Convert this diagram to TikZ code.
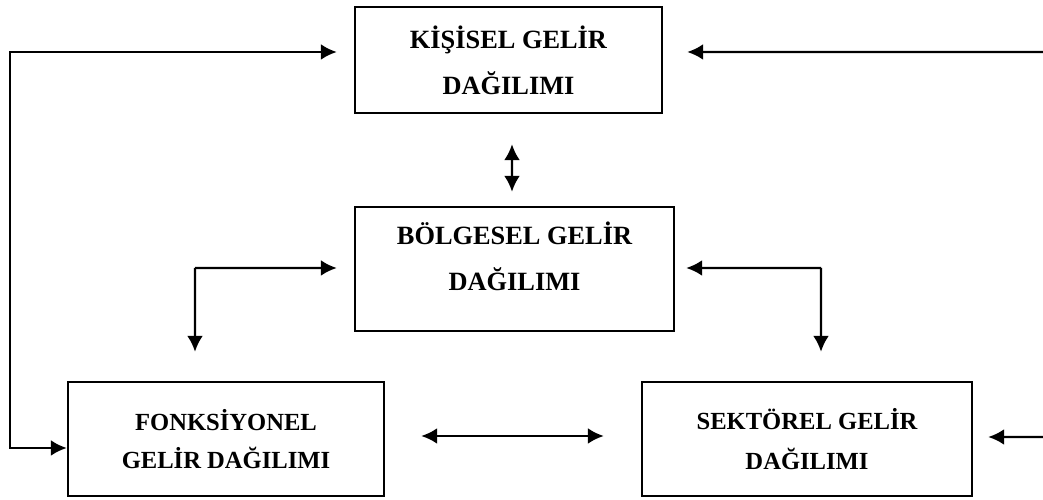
\documentclass[tikz,border=0pt]{standalone}
\usepackage{fontspec}
\setmainfont{Liberation Serif}
\usetikzlibrary{positioning,arrows.meta,calc}

\tikzset{
  kutu/.style={draw, line width=1.4pt, align=center, inner sep=0pt,
               font=\fontsize{15pt}{26pt}\selectfont\bfseries},
  yazi/.style={align=center, inner sep=0pt,
               font=\fontsize{15pt}{26pt}\selectfont\bfseries},
  ok/.style={-{Latex[length=3.2mm,width=3.2mm]}, line width=1.4pt},
  ciftok/.style={{Latex[length=3.2mm,width=3.2mm]}-{Latex[length=3.2mm,width=3.2mm]}, line width=1.4pt}
}

\begin{document}
\begin{tikzpicture}
    \useasboundingbox (0,0) rectangle (20.86,-10);
    % kutular
    \node[kutu, minimum width=6.14cm, minimum height=2.12cm] (kisisel) at (10.17,-1.20) {KİŞİSEL GELİR\\DAĞILIMI};
    \node[kutu, minimum width=6.38cm, minimum height=2.48cm] (bolgesel) at (10.29,-5.38) {};
    \node[yazi] (bolgeselyazi) at ([yshift=0.26cm]bolgesel.center) {BÖLGESEL GELİR\\DAĞILIMI};
    \node[kutu, minimum width=6.32cm, minimum height=2.28cm, font=\fontsize{14pt}{22pt}\selectfont\bfseries] (fonksiyonel) at (4.52,-8.78) {FONKSİYONEL\\GELİR DAĞILIMI};
    \node[kutu, minimum width=6.60cm, minimum height=2.28cm, font=\fontsize{14pt}{23pt}\selectfont\bfseries] (sektorel) at (16.14,-8.78) {SEKTÖREL GELİR\\DAĞILIMI};

    % serbest uclar
    \coordinate (solhat) at (0.2,-4.8);
    \coordinate (sagust) at (20.86,-1.04);
    \coordinate (sagalt) at (20.86,-8.74);
    \coordinate (soldirsek) at (3.9,-5.36);
    \coordinate (sagdirsek) at (16.42,-5.36);

    % oklar
    \draw[ok] (solhat) |- ($(kisisel.west)+(-0.34,0.16)$);
    \draw[ok] (solhat) |- ($(fonksiyonel.west)+(0,-0.18)$);
    \draw[ok] (sagust) -- ($(kisisel.east)+(0.48,0.16)$);
    \draw[ok] (sagalt) -- ($(sektorel.east)+(0.30,0.04)$);
    \draw[ciftok] ($(kisisel.south)+(0.07,-0.60)$) -- ($(bolgesel.north)+(-0.05,0.28)$);
    \draw[ok] (soldirsek) -- ($(bolgesel.west)+(-0.34,0.02)$);
    \draw[ok] (soldirsek) -- ($(fonksiyonel.north)+(-0.62,0.58)$);
    \draw[ok] (sagdirsek) -- ($(bolgesel.east)+(0.22,0.02)$);
    \draw[ok] (sagdirsek) -- ($(sektorel.north)+(0.28,0.58)$);
    \draw[ciftok] ($(fonksiyonel.east)+(0.72,0.06)$) -- ($(sektorel.west)+(-0.74,0.06)$);
\end{tikzpicture}
\end{document}
